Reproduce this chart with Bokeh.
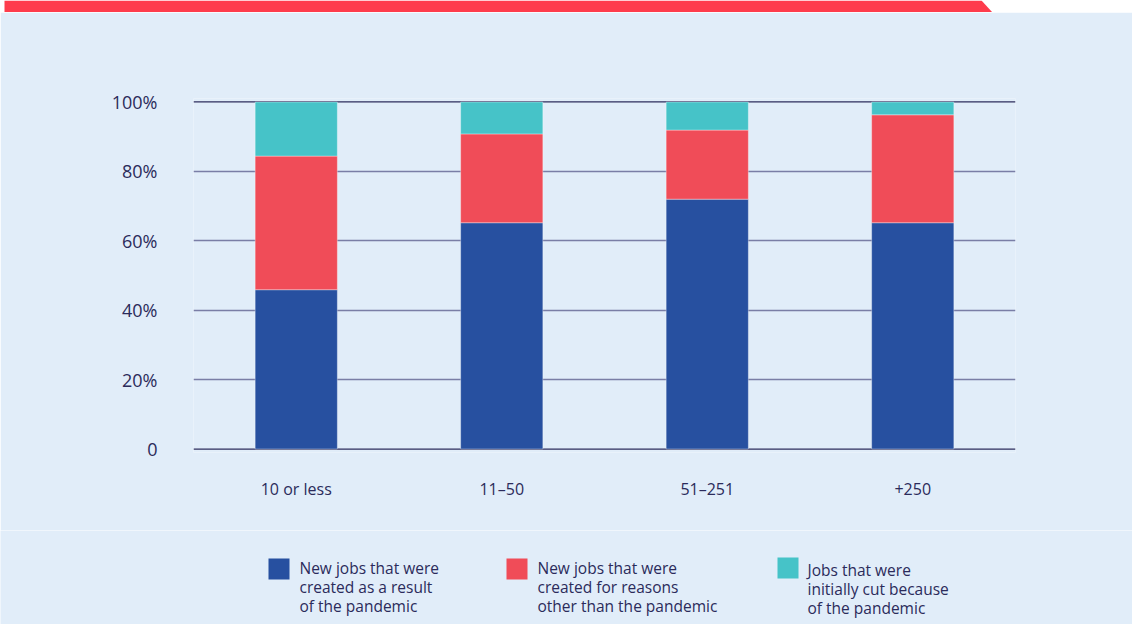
from bokeh.plotting import figure
from bokeh.layouts import column
from bokeh.models import Range1d, FactorRange, FixedTicker, Span, ColumnDataSource
from bokeh.embed import file_html
from bokeh.resources import INLINE
from bokeh.core.properties import value

# ---- data ----
categories = ["10 or less", "11–50", "51–251", "+250"]
pandemic_created = [45.9, 65.2, 72.0, 65.2]
other_reasons = [38.5, 25.6, 19.9, 31.1]
initially_cut = [15.6, 9.2, 8.1, 3.7]
y_ticks = [0, 20, 40, 60, 80, 100]
y_tick_labels = ["0", "20%", "40%", "60%", "80%", "100%"]
series_keys = ["pandemic_created", "other_reasons", "initially_cut"]
series_names = [
    "New jobs that were\ncreated as a result\nof the pandemic",
    "New jobs that were\ncreated for reasons\nother than the pandemic",
    "Jobs that were\ninitially cut because\nof the pandemic",
]

# ---- styles ----
colors = ["#2750A0", "#F04C58", "#46C3C8"]
BG = "#E1EDF9"
TEXT = "#2B2B5B"
FONT = "Open Sans"
W = 1132

# ---- banner ----
banner = figure(width=W, height=12, x_range=Range1d(0, W), y_range=Range1d(12, 0),
                output_backend="svg", toolbar_location=None, min_border=0,
                min_border_left=0, min_border_right=0, min_border_top=0, min_border_bottom=0,
                frame_align=False)
banner.axis.visible = False
banner.grid.visible = False
banner.outline_line_color = None
banner.background_fill_color = "white"
banner.border_fill_color = "white"
banner.patch([4, 981, 992, 4], [0, 0, 12, 12], fill_color="#FE3C4C", line_color=None)

# ---- main chart ----
src = ColumnDataSource(dict(categories=categories, pandemic_created=pandemic_created,
                            other_reasons=other_reasons, initially_cut=initially_cut))
p = figure(width=W, height=518, x_range=FactorRange(*categories), y_range=Range1d(-1, 101),
           output_backend="svg", toolbar_location=None, frame_align=False,
           min_border_left=193, min_border_right=117, min_border_top=86, min_border_bottom=78)
p.background_fill_color = BG
p.border_fill_color = BG
p.outline_line_color = None
p.x_range.range_padding = 0
p.xgrid.visible = False
p.ygrid.ticker = FixedTicker(ticks=y_ticks[1:-1])
p.ygrid.grid_line_color = "#7A7EA6"
p.ygrid.grid_line_width = 1.5

for t in (y_ticks[0], y_ticks[-1]):
    p.add_layout(Span(location=t, dimension="width", line_color="#2D2D5C",
                      line_width=1.3, level="underlay"))

p.vbar_stack(series_keys, x="categories", width=0.4, source=src, color=colors,
             line_color="#FFFFFF", line_alpha=0.35, line_width=1)

p.yaxis.ticker = FixedTicker(ticks=y_ticks)
p.yaxis.major_label_overrides = {t: l for t, l in zip(y_ticks, y_tick_labels)}
p.yaxis.axis_line_color = None
p.yaxis.major_tick_line_color = None
p.yaxis.minor_tick_line_color = None
p.yaxis.major_label_standoff = 30
p.yaxis.major_label_text_font = FONT
p.yaxis.major_label_text_font_size = "18px"
p.yaxis.major_label_text_color = TEXT

p.xaxis.axis_line_color = None
p.xaxis.major_tick_line_color = None
p.xaxis.major_label_standoff = 19
p.xaxis.major_label_text_font = FONT
p.xaxis.major_label_text_font_size = "16px"
p.xaxis.major_label_text_color = TEXT

# ---- legend ----
leg = figure(width=W, height=94, x_range=Range1d(0, W), y_range=Range1d(94, 0),
             output_backend="svg", toolbar_location=None, min_border=0,
             min_border_left=0, min_border_right=0, min_border_top=0, min_border_bottom=0,
             frame_align=False)
leg.axis.visible = False
leg.grid.visible = False
leg.outline_line_color = None
leg.background_fill_color = BG
leg.border_fill_color = BG
sq_x = [278.5, 516.5, 787.5]
sq_y = [38.5, 38.5, 37.5]
leg.rect(x=sq_x, y=sq_y, width=21, height=21, fill_color=colors, line_color=None)
leg.text(x=[299, 537, 807], y=[26.5, 26.5, 28.5], text=series_names,
         text_font=value(FONT), text_font_size="15.5px", text_color=TEXT,
         text_baseline="top", text_align="left", text_line_height=0.855)

layout = column(banner, p, leg, spacing=0)
open("out.html", "w").write(file_html(layout, INLINE))
